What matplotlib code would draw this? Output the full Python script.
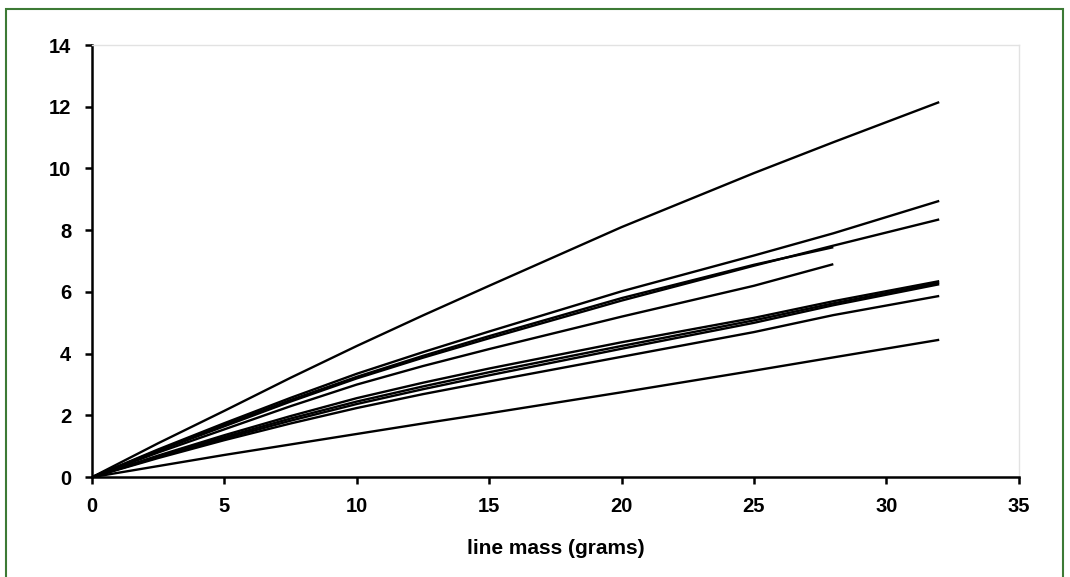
import matplotlib
matplotlib.use("Agg")
import matplotlib.pyplot as plt
from matplotlib.patches import Rectangle

# line mass (grams) sample points
mass_long = [0, 2.5, 5, 7.5, 10, 12.5, 15, 20, 25, 28, 32]
mass_short = [0, 2.5, 5, 7.5, 10, 12.5, 15, 20, 25, 28]

series_long = [
    [0, 1.1, 2.15, 3.22, 4.25, 5.24, 6.2, 8.1, 9.85, 10.85, 12.15],
    [0, 0.9, 1.75, 2.57, 3.35, 4.05, 4.72, 6.02, 7.18, 7.9, 8.95],
    [0, 0.85, 1.65, 2.45, 3.2, 3.87, 4.5, 5.72, 6.85, 7.5, 8.35],
    [0, 0.7, 1.36, 1.98, 2.56, 3.06, 3.52, 4.37, 5.16, 5.7, 6.35],
    [0, 0.67, 1.3, 1.9, 2.45, 2.94, 3.4, 4.25, 5.08, 5.63, 6.3],
    [0, 0.65, 1.25, 1.83, 2.37, 2.85, 3.3, 4.16, 5.0, 5.57, 6.25],
    [0, 0.62, 1.2, 1.74, 2.24, 2.69, 3.1, 3.9, 4.7, 5.25, 5.87],
    [0, 0.36, 0.72, 1.06, 1.4, 1.74, 2.07, 2.75, 3.45, 3.88, 4.45],
]
series_short = [
    [0, 0.87, 1.7, 2.5, 3.25, 3.93, 4.57, 5.8, 6.88, 7.45],
    [0, 0.8, 1.55, 2.3, 3.0, 3.6, 4.15, 5.2, 6.2, 6.9],
]

x_ticks = [0, 5, 10, 15, 20, 25, 30, 35]
y_ticks = [0, 2, 4, 6, 8, 10, 12, 14]

plt.rcParams["font.family"] = ["Liberation Sans", "DejaVu Sans"]
plt.rcParams["font.weight"] = "bold"

fig = plt.figure(figsize=(10.7, 5.77), dpi=100)
ax = fig.add_axes([0.086, 0.173, 0.866, 0.749])

for ys in series_long:
    ax.plot(mass_long, ys, color="black", lw=1.7, solid_capstyle="butt", solid_joinstyle="round")
for ys in series_short:
    ax.plot(mass_short, ys, color="black", lw=1.7, solid_capstyle="butt", solid_joinstyle="round")

ax.set_xlim(0, 35)
ax.set_ylim(0, 14)
ax.set_xticks(x_ticks)
ax.set_yticks(y_ticks)
ax.tick_params(direction="out", length=5, width=1.8, labelsize=14.5)
ax.tick_params(axis="y", pad=10)
ax.tick_params(axis="x", pad=9)
for lab in ax.get_xticklabels() + ax.get_yticklabels():
    lab.set_fontweight("bold")

for side in ("left", "bottom"):
    ax.spines[side].set_linewidth(1.8)
    ax.spines[side].set_color("black")
for side in ("top", "right"):
    ax.spines[side].set_linewidth(1.0)
    ax.spines[side].set_color("#e2e2e2")

ax.set_xlabel("line mass (grams)", fontsize=15, fontweight="bold", labelpad=17)

# green frame around the figure
frame = Rectangle((6 / 1070, -0.05), (1063 - 6) / 1070, 1.05 - 9 / 577,
                  transform=fig.transFigure, fill=False,
                  edgecolor="#3d7a35", lw=1.5, clip_on=False)
fig.patches.append(frame)

fig.savefig("out.png", dpi=100)
